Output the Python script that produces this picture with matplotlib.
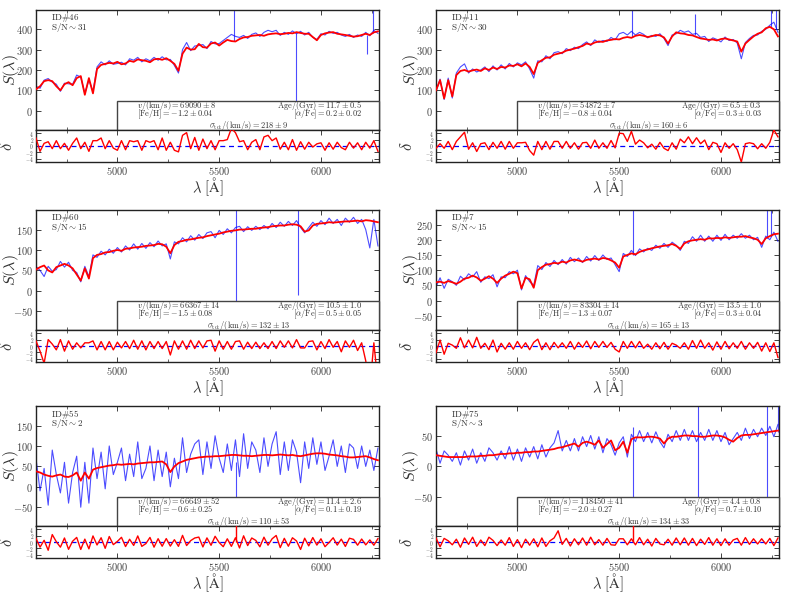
import numpy as np
import matplotlib
matplotlib.use('Agg')
import matplotlib.pyplot as plt
from matplotlib.patches import Rectangle
from matplotlib.ticker import MultipleLocator

plt.rcParams['mathtext.fontset'] = 'cm'
plt.rcParams['font.family'] = 'serif'
plt.rcParams['font.serif'] = ['cmr10', 'DejaVu Serif']
plt.rcParams['axes.formatter.use_mathtext'] = True

# wavelength grid (Angstrom)
wave = np.arange(4600, 6281, 20)

# ---------------- ID#46 ----------------
model_46 = [105,120,145,150,145,120,100,130,140,125,
            160,170,78,160,85,205,225,230,235,232,
            240,228,232,245,240,252,248,245,238,252,
            255,250,258,245,230,196,280,310,300,302,
            328,312,310,330,335,320,335,348,342,340,
            352,360,362,368,370,372,368,375,378,380,
            376,378,382,380,386,382,378,378,362,346,
            372,380,384,386,378,375,372,368,364,366,
            372,378,372,385,390]
obs_46 = [120,110,150,158,140,130,95,135,132,130,
          175,165,85,150,95,215,240,225,245,228,
          232,238,225,255,248,262,240,255,245,262,
          248,265,250,252,222,185,300,335,295,318,
          320,325,305,340,328,330,345,360,375,365,
          360,370,355,375,382,365,385,395,388,395,
          370,385,375,392,378,390,372,385,360,350,
          378,372,390,380,385,372,365,375,360,372,
          365,385,368,395,380]
spike_wl_46 = [5574, 5877, 6228, 6254]
spike_lo_46 = [340, -60, 280, 380]
spike_hi_46 = [500, 380, 370, 500]

# ---------------- ID#11 ----------------
model_11 = [100,150,60,150,70,175,195,200,192,198,
            202,195,208,200,212,205,215,212,222,220,
            228,218,232,215,180,235,248,260,262,275,
            280,285,295,300,305,312,318,330,325,335,
            340,338,345,348,352,350,358,362,358,368,
            372,368,362,366,372,370,360,330,365,385,
            380,378,372,370,362,355,352,348,350,345,
            352,355,350,345,340,290,330,348,365,378,
            385,405,412,400,365]
obs_11 = [95,155,55,160,62,185,215,230,185,205,
          190,200,215,192,220,200,225,205,232,215,
          235,225,240,205,160,245,240,270,255,285,
          290,280,305,295,312,305,325,338,320,348,
          335,345,340,360,348,378,385,372,390,372,
          385,375,358,370,365,378,355,320,372,378,
          395,385,392,375,380,360,365,340,358,350,
          338,362,345,350,332,255,335,355,370,372,
          390,400,420,435,385]
spike_wl_11 = [5564, 5874, 6246, 6268]
spike_lo_11 = [360, 370, 410, 400]
spike_hi_11 = [500, 475, 500, 500]

# ---------------- ID#60 ----------------
model_60 = [52,58,62,50,45,58,62,66,62,55,
            40,25,55,30,80,88,90,94,95,98,
            100,98,103,104,106,107,108,110,111,112,
            115,114,108,92,112,120,122,125,126,128,
            130,131,134,136,138,140,143,145,147,148,
            150,150,151,152,152,154,155,156,158,159,
            160,160,162,163,162,158,145,148,160,164,
            165,166,168,167,168,169,170,170,171,172,
            170,173,172,170,168]
obs_60 = [60,50,35,60,48,52,72,58,70,50,
          45,22,60,35,88,82,97,88,102,92,
          106,95,110,100,115,102,116,104,118,108,
          122,110,115,78,120,115,130,120,135,124,
          138,128,142,145,130,148,138,152,142,155,
          158,145,157,148,158,150,160,152,165,155,
          168,158,170,160,172,155,142,155,168,158,
          172,162,178,165,175,160,178,168,180,165,
          175,150,105,175,110]
spike_wl_60 = [5582, 5885]
spike_lo_60 = [-96, -11]
spike_hi_60 = [198, 198]

# ---------------- ID#7 ----------------
model_7 = [60,62,58,64,60,55,62,72,75,82,
           76,65,72,80,72,58,72,82,88,95,
           90,40,75,70,42,100,110,118,120,124,
           122,128,125,132,135,132,128,134,136,138,
           135,140,138,132,125,108,145,150,155,152,
           160,165,168,172,175,178,180,182,186,180,
           170,188,195,198,200,202,200,205,204,206,
           205,208,206,208,210,210,212,208,205,200,
           186,205,212,218,220]
obs_7 = [45,75,40,70,62,50,80,68,88,78,
         95,60,78,72,85,45,78,75,95,88,
         100,35,82,62,50,115,102,125,112,132,
         118,135,120,142,128,140,125,145,130,148,
         132,150,135,140,118,95,155,145,165,148,
         170,160,172,165,182,172,188,175,192,182,
         165,195,188,210,195,215,195,212,195,215,
         198,218,200,215,205,220,205,215,200,208,
         175,212,200,225,195]
spike_wl_7 = [5567, 6226, 6246]
spike_lo_7 = [150, 205, 212]
spike_hi_7 = [298, 298, 298]

# ---------------- ID#55 ----------------
model_55 = [38,35,30,27,25,28,30,25,24,28,
            35,15,35,20,42,46,48,50,52,53,
            55,54,55,56,55,57,58,59,60,60,
            61,62,55,36,50,58,62,66,68,70,
            72,73,74,74,75,75,76,77,78,78,
            77,76,76,75,76,77,78,78,77,78,
            79,78,77,78,76,75,77,79,81,82,
            82,81,79,78,77,75,74,72,72,73,
            74,75,72,68,65]
obs_55 = [70,-10,45,-45,90,30,-15,60,-40,35,
          75,-50,60,-40,95,20,85,-5,100,30,
          60,95,15,80,25,110,20,45,100,15,
          90,25,85,0,70,20,120,35,80,105,
          115,30,110,45,125,70,35,105,40,115,
          25,130,45,110,90,35,120,50,105,135,
          30,110,40,115,85,10,110,45,120,55,
          110,40,75,115,50,100,35,105,95,45,
          100,50,90,40,95]
spike_wl_55 = [5582]
spike_lo_55 = [-96]
spike_hi_55 = [60]

# ---------------- ID#75 ----------------
model_75 = [18,17,16,15,15,15,15,15,16,16,
            16,17,17,18,18,19,20,20,21,21,
            22,22,23,23,24,24,25,26,27,28,
            30,31,33,35,37,32,38,40,38,35,
            42,30,36,42,26,30,40,22,44,47,
            47,47,48,48,47,45,37,45,48,48,
            49,50,50,49,49,48,48,49,50,50,
            49,47,43,40,46,50,51,51,52,53,
            54,55,56,57,58]
obs_75 = [28,5,25,18,8,22,2,25,10,28,
          5,22,8,30,22,10,25,12,32,10,
          28,8,30,15,32,12,35,15,30,38,
          58,25,42,25,45,25,48,32,50,28,
          48,22,45,35,18,38,48,15,52,40,
          58,40,55,38,56,40,30,52,40,58,
          42,60,42,58,40,55,42,60,42,58,
          40,55,35,45,55,42,62,45,60,48,
          62,50,65,48,68]
spike_wl_75 = [5570, 5885, 6225, 6279]
spike_lo_75 = [-97, -97, -97, 55]
spike_hi_75 = [64, 98, 98, 98]

# panel metadata
ids = ['46', '11', '60', '7', '55', '75']
snr = ['31', '30', '15', '15', '2', '3']
vel = ['69090 \\pm 8', '54872 \\pm 7', '66367 \\pm 14', '83304 \\pm 14', '66649 \\pm 52', '118450 \\pm 41']
age = ['11.7 \\pm 0.5', '6.5 \\pm 0.3', '10.5 \\pm 1.0', '13.5 \\pm 1.0', '11.4 \\pm 2.6', '4.4 \\pm 0.8']
feh = ['-1.2 \\pm 0.04', '-0.8 \\pm 0.04', '-1.5 \\pm 0.08', '-1.3 \\pm 0.07', '-0.6 \\pm 0.25', '-2.0 \\pm 0.27']
afe = ['0.2 \\pm 0.02', '0.3 \\pm 0.03', '0.5 \\pm 0.05', '0.3 \\pm 0.04', '0.1 \\pm 0.19', '0.7 \\pm 0.10']
sig = ['218 \\pm 9', '160 \\pm 6', '132 \\pm 13', '165 \\pm 13', '110 \\pm 53', '134 \\pm 33']
resid_scale = [6, 7, 5, 7, 28, 8]
resid_spike_wl = [[], [], [], [], [5582], [5570]]
ylims = [(-95, 495), (-95, 495), (-96, 198), (-97, 298), (-96, 198), (-97, 98)]
ysteps = [100, 100, 50, 50, 50, 50]

models = [model_46, model_11, model_60, model_7, model_55, model_75]
observed = [obs_46, obs_11, obs_60, obs_7, obs_55, obs_75]
spikes = [(spike_wl_46, spike_lo_46, spike_hi_46), (spike_wl_11, spike_lo_11, spike_hi_11),
          (spike_wl_60, spike_lo_60, spike_hi_60), (spike_wl_7, spike_lo_7, spike_hi_7),
          (spike_wl_55, spike_lo_55, spike_hi_55), (spike_wl_75, spike_lo_75, spike_hi_75)]

xlim = (4600, 6285)
TXT = '#333333'

fig = plt.figure(figsize=(7.89, 5.93), dpi=100)
col_x = [0.0456, 0.5526]
col_w = 0.4347
row_main_bottom = [0.7808, 0.4435, 0.1130]
main_h = 0.2024
res_h = 0.054

def style(ax):
    ax.tick_params(which='both', direction='in', top=True, right=True,
                   colors='#222222', labelcolor='#444444', labelsize=7.5, pad=2.0)
    ax.tick_params(which='major', length=3.5, width=0.6)
    ax.tick_params(which='minor', length=2, width=0.5)
    for s in ax.spines.values():
        s.set_linewidth(1.0)
        s.set_color('#222222')

for i in range(6):
    r, c = divmod(i, 2)
    x0 = col_x[c]
    yb = row_main_bottom[r]
    ax = fig.add_axes([x0, yb, col_w, main_h])
    axr = fig.add_axes([x0, yb - res_h, col_w, res_h])

    m = np.array(models[i], dtype=float)
    o = np.array(observed[i], dtype=float)
    ax.plot(wave, o, color='blue', lw=0.8, alpha=0.7, zorder=2)
    sw, slo, shi = spikes[i]
    ax.vlines(sw, slo, shi, color='blue', lw=0.8, alpha=0.7, zorder=2)
    ax.plot(wave, m, color='red', lw=1.3, zorder=3)
    ax.set_xlim(*xlim)
    ax.set_ylim(*ylims[i])
    ax.yaxis.set_major_locator(MultipleLocator(ysteps[i]))
    ax.xaxis.set_major_locator(MultipleLocator(500))
    ax.xaxis.set_minor_locator(MultipleLocator(250))
    ax.set_xticklabels([])
    style(ax)
    ax.set_ylabel(r'$S(\lambda)$', fontsize=11.5, color=TXT)
    ax.yaxis.set_label_coords(-0.045, 0.5)

    # info box
    rect = Rectangle((5000, 0.0), xlim[1] - 5000, 0.24, transform=ax.get_xaxis_transform(),
                     facecolor='white', edgecolor='#444444', lw=1.0, zorder=5, clip_on=False)
    ax.add_patch(rect)
    fs = 6.0
    ax.text(0.295, 0.205, r'$v/(\mathrm{km/s}) = %s$' % vel[i], transform=ax.transAxes,
            fontsize=fs, color=TXT, ha='left', va='center', zorder=6)
    ax.text(0.95, 0.205, r'$\mathrm{Age}/(\mathrm{Gyr}) = %s$' % age[i], transform=ax.transAxes,
            fontsize=fs, color=TXT, ha='right', va='center', zorder=6)
    ax.text(0.295, 0.127, r'$[\mathrm{Fe/H}] = %s$' % feh[i], transform=ax.transAxes,
            fontsize=fs, color=TXT, ha='left', va='center', zorder=6)
    ax.text(0.95, 0.127, r'$[\alpha/\mathrm{Fe}] = %s$' % afe[i], transform=ax.transAxes,
            fontsize=fs, color=TXT, ha='right', va='center', zorder=6)
    ax.text(0.62, 0.04, r'$\sigma_{\mathrm{tot}}/(\mathrm{km/s}) = %s$' % sig[i], transform=ax.transAxes,
            fontsize=fs, color=TXT, ha='center', va='center', zorder=6)

    ax.text(0.045, 0.93, r'$\mathrm{ID\#%s}$' % ids[i], transform=ax.transAxes,
            fontsize=6.5, color=TXT, ha='left', va='center')
    ax.text(0.045, 0.85, r'$\mathrm{S/N} \sim %s$' % snr[i], transform=ax.transAxes,
            fontsize=6.5, color=TXT, ha='left', va='center')

    # residuals
    res = (o - m) / resid_scale[i]
    axr.axhline(0, color='blue', ls='--', lw=0.9, dashes=(4, 3), zorder=2)
    axr.plot(wave, res, color='red', lw=1.0, zorder=3)
    if resid_spike_wl[i]:
        axr.vlines(resid_spike_wl[i], 0, 6, color='red', lw=1.0, zorder=3)
    axr.set_xlim(*xlim)
    axr.set_ylim(-5, 5)
    axr.set_yticks([-4, -2, 0, 2, 4])
    axr.xaxis.set_major_locator(MultipleLocator(500))
    axr.xaxis.set_minor_locator(MultipleLocator(250))
    style(axr)
    axr.tick_params(axis='y', labelsize=3.8, pad=1.5)
    axr.set_ylabel(r'$\delta$', fontsize=12, color=TXT)
    axr.yaxis.set_label_coords(-0.06, 0.5)
    axr.set_xlabel(r'$\lambda\ [\mathrm{\AA}]$', fontsize=10.5, color=TXT, labelpad=-1)

fig.savefig('out.png', dpi=100)
